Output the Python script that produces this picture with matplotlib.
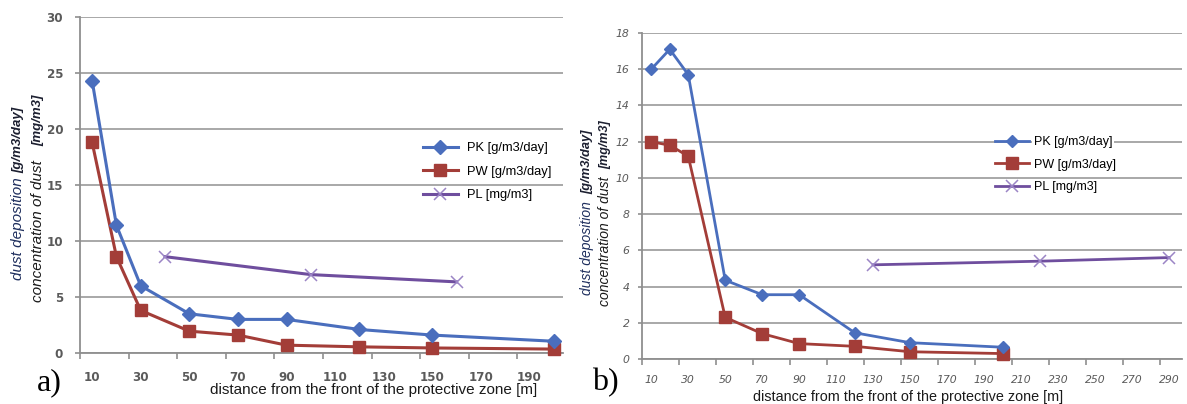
#!/usr/bin/env python3

import numpy as np
import matplotlib
matplotlib.use('Agg')
import matplotlib.pyplot as plt

plt.rcParams['font.family'] = ['Liberation Sans', 'DejaVu Sans']

# panel a)
a_dist = [10, 20, 30, 50, 70, 90, 120, 150, 200]
a_PK = [24.3, 11.4, 6.0, 3.5, 3.0, 3.0, 2.1, 1.6, 1.05]
a_PW = [18.8, 8.6, 3.8, 1.95, 1.6, 0.7, 0.55, 0.45, 0.35]
a_PL_dist = [40, 100, 160]
a_PL = [8.6, 7.0, 6.35]
a_xticks = [10, 30, 50, 70, 90, 110, 130, 150, 170, 190]
a_yticks = [0, 5, 10, 15, 20, 25, 30]

# panel b)
b_dist = [10, 20, 30, 50, 70, 90, 120, 150, 200]
b_PK = [16.0, 17.1, 15.7, 4.35, 3.55, 3.55, 1.45, 0.9, 0.65]
b_PW = [12.0, 11.8, 11.2, 2.3, 1.4, 0.85, 0.7, 0.4, 0.3]
b_PL_dist = [130, 220, 290]
b_PL = [5.2, 5.4, 5.6]
b_xticks = [10, 30, 50, 70, 90, 110, 130, 150, 170, 190, 210, 230, 250, 270, 290]
b_yticks = [0, 2, 4, 6, 8, 10, 12, 14, 16, 18]

seriesNames = ['PK [g/m3/day]', 'PW [g/m3/day]', 'PL [mg/m3]']
xLabel = 'distance from the front of the protective zone [m]'

BLUE = '#4a6ebd'
RED = '#a33d38'
PURPLE = '#6f4e9e'
PURPLE_X = '#9b85c6'
GRID = '#a8a8a8'
AXIS = '#8f8f8f'
TICKTXT = '#5a5a5a'

W, H = 1187, 404

def px(x, y) :
	return x / W, 1 - y / H

def drawPanel(ax, dist, PK, PW, PL_dist, PL, xlim, ylim, xticks, yticks, tickFont, lw, msD, msS, msX) :
	ax.set_xlim(xlim)
	ax.set_ylim(ylim)
	ax.set_yticks(yticks)
	ax.yaxis.grid(True, color=GRID, lw=1.4)
	ax.set_axisbelow(True)

	ax.plot(dist, PK, color=BLUE, lw=lw, marker='D', ms=msD, label=seriesNames[0], clip_on=False, zorder=4)
	ax.plot(dist, PW, color=RED, lw=lw, marker='s', ms=msS, label=seriesNames[1], clip_on=False, zorder=3)
	ax.plot(PL_dist, PL, color=PURPLE, lw=lw, marker='x', ms=msX, mew=1.1, mec=PURPLE_X, label=seriesNames[2], clip_on=False, zorder=3)

	# labels sit between the tick marks, like the original Excel axis
	ax.set_xticks(xticks)
	ax.set_xticks(np.arange(xlim[0], xlim[1], 20), minor=True)
	ax.set_xticklabels([str(t) for t in xticks], **tickFont)
	ax.set_yticklabels([str(t) for t in yticks], **tickFont)

	for s in ['top', 'right'] :
		ax.spines[s].set_visible(False)
	for s in ['left', 'bottom'] :
		ax.spines[s].set_color(AXIS)
		ax.spines[s].set_linewidth(1.3)

def main() :
	fig = plt.figure(figsize=(W / 100, H / 100), dpi=100)

	# a)
	axA = fig.add_axes([80 / W, 1 - 353 / H, (563 - 80) / W, (353 - 17) / H])
	drawPanel(axA, a_dist, a_PK, a_PW, a_PL_dist, a_PL, (5, 203.8), (0, 30), a_xticks, a_yticks,
		dict(family='DejaVu Sans', fontsize=8.6, fontweight='bold', color=TICKTXT), 2.2, 7, 8.5, 9)
	axA.tick_params(axis='x', which='major', length=0, pad=13)
	axA.tick_params(axis='x', which='minor', length=4.5, width=1.2, color=AXIS, direction='out')
	axA.tick_params(axis='y', length=3.6, width=1.2, color=AXIS, pad=8.5)
	axA.legend(loc='upper left', bbox_to_anchor=px(423, 142), bbox_transform=fig.transFigure,
		frameon=False, borderpad=0, borderaxespad=0, handlelength=2.7, handletextpad=0.7,
		labelspacing=0.9, fontsize=9.3)

	# b)
	axB = fig.add_axes([642 / W, 1 - 359 / H, (1182 - 642) / W, (359 - 33) / H])
	drawPanel(axB, b_dist, b_PK, b_PW, b_PL_dist, b_PL, (5, 297), (0, 18), b_xticks, b_yticks,
		dict(family='DejaVu Sans', fontsize=7.8, fontstyle='italic', color=TICKTXT), 2.0, 6, 8, 8.5)
	axB.tick_params(axis='x', which='major', length=0, pad=11.5)
	axB.tick_params(axis='x', which='minor', length=4.5, width=1.2, color=AXIS, direction='out')
	axB.tick_params(axis='y', length=3, width=1.2, color=AXIS, pad=6)
	legB = axB.legend(loc='upper left', bbox_to_anchor=px(995, 136), bbox_transform=fig.transFigure,
		frameon=False, borderpad=0, borderaxespad=0, handlelength=2.7, handletextpad=0.4,
		labelspacing=0.85, fontsize=9)
	for t in legB.get_texts() :
		t.set_bbox(dict(facecolor='white', edgecolor='none', pad=1.5))

	# y labels, two rotated lines each
	NAVY = '#1f2f5e'
	DARK = '#1c1f30'
	ylabs = [
		# x, y, text, anchor, color, weight, size
		(18, 280, 'dust deposition', 'bottom', NAVY, 'normal', 11),
		(18, 107, '[g/m3/day]', 'top', DARK, 'bold', 9.5),
		(38, 302, 'concentration of dust', 'bottom', '#1a1a1a', 'normal', 11),
		(38, 95, '[mg/m3]', 'top', DARK, 'bold', 9.5),
		(587, 295, 'dust deposition', 'bottom', NAVY, 'normal', 10),
		(587, 130, '[g/m3/day]', 'top', DARK, 'bold', 9.3),
		(605, 306, 'concentration of dust', 'bottom', '#1a1a1a', 'normal', 10),
		(605, 120, '[mg/m3]', 'top', DARK, 'bold', 9),
	]
	for x, y, txt, va, col, wt, sz in ylabs :
		fx, fy = px(x, y)
		fig.text(fx, fy, txt, rotation=90, ha='center', va=va, color=col, fontweight=wt,
			fontstyle='italic', fontsize=sz)

	fig.text(*px(374, 390), xLabel, ha='center', va='center', fontsize=11, color='#1a1a1a')
	fig.text(*px(908, 397), xLabel, ha='center', va='center', fontsize=10.4, color='#1a1a1a')

	fig.text(*px(37, 383), 'a)', family='Liberation Serif', fontsize=23, va='center', ha='left')
	fig.text(*px(592, 383), 'b)', family='Liberation Serif', fontsize=23, va='center', ha='left')

	fig.savefig('out.png', dpi=100)

if __name__ == '__main__' :
	main()
